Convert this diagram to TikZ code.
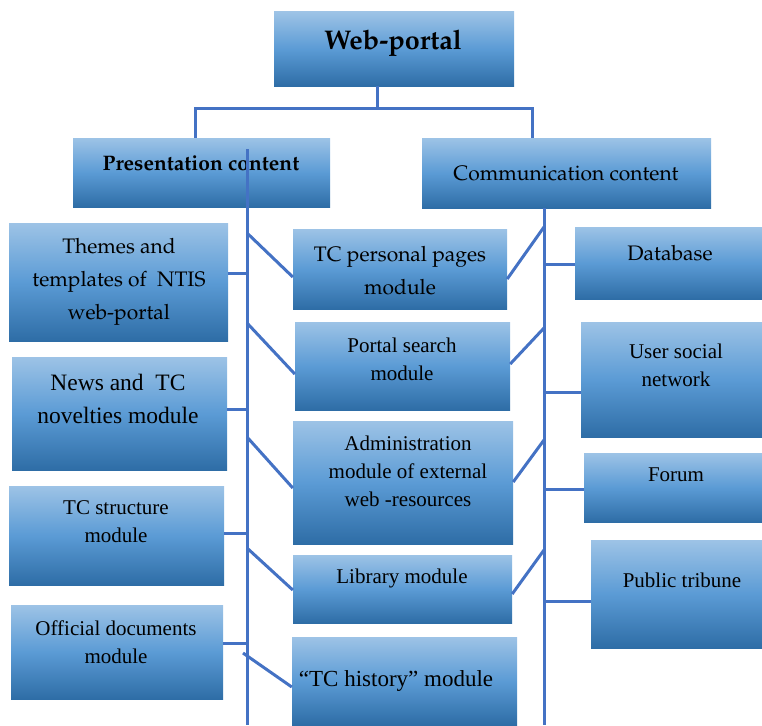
\documentclass[tikz,border=0pt]{standalone}
\usepackage[T1]{fontenc}
\usepackage{fontspec}
\setmainfont{Liberation Serif}
\newcommand\palfont{\fontencoding{T1}\fontfamily{ppl}\selectfont}
\usetikzlibrary{fit}
\definecolor{gtop}{HTML}{9DC3E6}
\definecolor{gmid}{HTML}{5B9BD5}
\definecolor{gbot}{HTML}{2E6DA6}
\definecolor{lncol}{HTML}{4472C4}
\tikzset{
  box/.style={rectangle, draw=none, inner sep=0pt, top color=gtop, bottom color=gbot, middle color=gmid},
  ln/.style={draw=lncol, line width=3pt},
  palt/.style={align=center, inner sep=0pt, font=\palfont\fontsize{21}{33}\selectfont},
  timt/.style={align=center, inner sep=0pt, font=\fontsize{21}{28}\selectfont},
}
\begin{document}
\begin{tikzpicture}[x=1pt,y=-1pt]
\useasboundingbox (0,0) rectangle (762,725);
% boxes
\node[box, fit={(274,12) (514,86)}] (wp) {};
\node[box, fit={(73,138) (330,207)}] (pc) {};
\node[box, fit={(422,138) (711,208)}] (cc) {};
\node[box, fit={(9,223) (228,341)}] (th) {};
\node[box, fit={(12,357) (227,470)}] (nw) {};
\node[box, fit={(9,486) (224,585)}] (ts) {};
\node[box, fit={(11,605) (223,699)}] (od) {};
\node[box, fit={(293,229) (507,309)}] (tp) {};
\node[box, fit={(295,322) (510,410)}] (ps) {};
\node[box, fit={(293,421) (513,544)}] (ad) {};
\node[box, fit={(293,555) (512,623)}] (lb) {};
\node[box, fit={(292,637) (517,725)}] (hs) {};
\node[box, fit={(575,227) (762,299)}] (db) {};
\node[box, fit={(581,322) (762,437)}] (us) {};
\node[box, fit={(584,453) (762,522)}] (fr) {};
\node[box, fit={(591,540) (762,648)}] (pt) {};
% texts
\node[inner sep=0pt, font=\palfont\bfseries\fontsize{27}{32}\selectfont] (wpt) at (393,43) {Web-portal};
\node[inner sep=0pt, font=\palfont\bfseries\fontsize{21}{26}\selectfont] (pct) at (201,163) {Presentation content};
\node[palt] (cct) at (566,173) {Communication content};
\node[palt] (tht) at (119,282) {Themes and\\templates of~~NTIS\\web-portal};
\node[palt] (tpt) at (400,271) {TC personal pages\\module};
\node[palt] (dbt) at (670,253) {Database};
\node[timt] (pst) at (402,359) {Portal search\\module};
\node[timt] (ust) at (676,365) {User social\\network};
\node[timt, font=\fontsize{23.5}{33}\selectfont] (nwt) at (118,399) {News and~~TC\\novelties module};
\node[timt] (adt) at (408,471) {Administration\\module of external\\web -resources};
\node[timt] (frt) at (676,475) {Forum};
\node[timt] (tst) at (116,522) {TC structure\\module};
\node[timt] (lbt) at (402,578) {Library module};
\node[timt] (ptt) at (682,580) {Public tribune};
\node[timt] (odt) at (116,642) {Official documents\\module};
\node[timt, font=\fontsize{23}{28}\selectfont] (hst) at (396,681) {“TC history” module};
% junction coordinates
\coordinate (j) at (377,108);
\coordinate (jl) at (195,108);
\coordinate (jr) at (532,108);
\coordinate (ls) at (247,149);
\coordinate (lse) at (247,725);
\coordinate (rs) at (544,208);
\coordinate (rse) at (544,725);
% tree connectors
\draw[ln] (j |- wp.south) -- (j);
\draw[ln] (jl |- pc.north) -- (jl) -- (jr) -- (jr |- cc.north);
\draw[ln] (ls) -- (lse);
\draw[ln] (rs |- cc.south) -- (rse);
% left stubs
\draw[ln] (th.east |- 0,273) -- (ls |- 0,273);
\draw[ln] (nw.east |- 0,409) -- (ls |- 0,409);
\draw[ln] (ts.east |- 0,533) -- (ls |- 0,533);
\draw[ln] (od.east |- 0,643) -- (ls |- 0,643);
% left diagonals
\draw[ln] (ls |- 0,233) -- (tp.west |- 0,277);
\draw[ln] (ls |- 0,323) -- (ps.west |- 0,374);
\draw[ln] (ls |- 0,437) -- (ad.west |- 0,488);
\draw[ln] (ls |- 0,548) -- (lb.west |- 0,590);
\draw[ln] ([xshift=-4pt]ls |- 0,653) -- (hs.west |- 0,687);
% right diagonals
\draw[ln] (tp.east |- 0,279) -- (rs |- 0,227);
\draw[ln] (ps.east |- 0,364) -- (rs |- 0,328);
\draw[ln] (ad.east |- 0,482) -- (rs |- 0,440);
\draw[ln] (lb.east |- 0,594) -- (rs |- 0,550);
% right stubs
\draw[ln] (rs |- 0,264) -- (db.west |- 0,264);
\draw[ln] (rs |- 0,392) -- (us.west |- 0,392);
\draw[ln] (rs |- 0,489) -- (fr.west |- 0,489);
\draw[ln] (rs |- 0,601) -- (pt.west |- 0,601);
\end{tikzpicture}
\end{document}
